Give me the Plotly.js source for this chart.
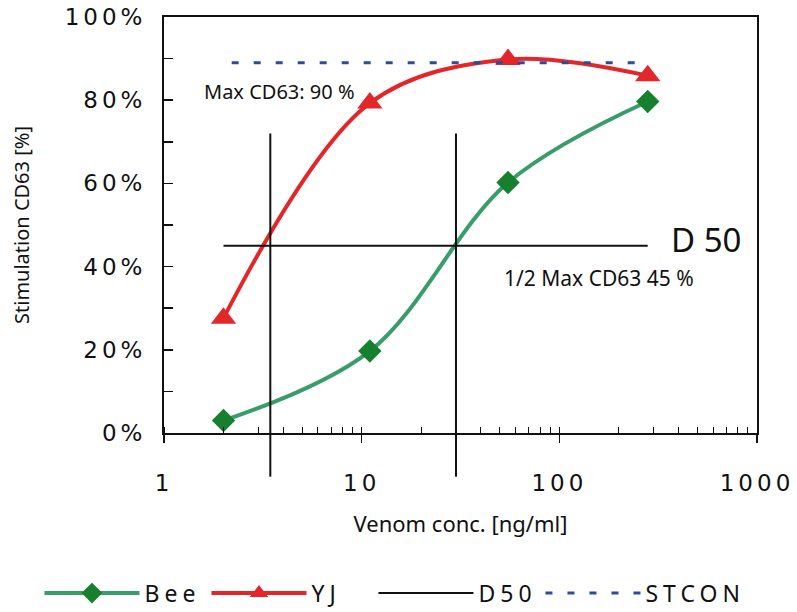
<!DOCTYPE html>
<html>
<head>
<meta charset="utf-8">
<script src="https://cdn.plot.ly/plotly-3.0.1.min.js"></script>
<style>
  html, body { margin: 0; padding: 0; background: #ffffff; }
  #chart { width: 797px; height: 612px; }
  .xtick text, .ytick text { letter-spacing: 4px; }
  .legendtext { letter-spacing: 5px; }
  .legend [clip-path] { clip-path: none !important; }
</style>
</head>
<body>
<div id="chart"></div>
<script>
// ---- data ----
const conc = [2, 11, 55, 280];            // venom concentration, ng/ml
const beeValues = [3, 19.7, 60.2, 79.7];  // Bee, stimulation CD63 %
const yjValues = [27.6, 79.3, 89.8, 85.9];// YJ, stimulation CD63 %
const stconX = [2.2, 280];
const stconY = [89, 89];                  // max CD63 level
const d50X = [2, 280, null, 3.45, 3.45, null, 30, 30];
const d50Y = [45, 45, null, 72, 0, null, 72, 0];
const d50Drop = [[3.45, 0, -10.5], [30, 0, -10.5]]; // part of the D50 verticals below the axis
const xTickVals = [1, 10, 100, 1000];
const xTickText = ['1', '10', '100', '1000'];
const yTickVals = [0, 20, 40, 60, 80, 100];
const yTickText = ['0%', '20%', '40%', '60%', '80%', '100%'];
const yRange = [0, 100];

const RED = '#e3262a', GREEN_LINE = '#3a9c6b', GREEN_MK = '#17802f', BLUE = '#2e4c9c';
const TXT = 'Noto Sans, DejaVu Sans, sans-serif';
const TICKF = 'DejaVu Sans, sans-serif';

const traces = [
  { x: conc, y: beeValues, name: 'Bee', type: 'scatter', mode: 'lines+markers',
    line: { color: GREEN_LINE, width: 4, shape: 'spline', smoothing: 1 },
    marker: { symbol: 'diamond', size: 18, color: GREEN_MK } },
  { x: conc, y: yjValues, name: 'YJ', type: 'scatter', mode: 'lines+markers',
    line: { color: RED, width: 4, shape: 'spline', smoothing: 1 },
    marker: { symbol: 'triangle-up', size: 22, color: RED } },
  { x: d50X, y: d50Y, name: 'D50', type: 'scatter', mode: 'lines',
    line: { color: '#111111', width: 2 }, connectgaps: false },
  { x: stconX, y: stconY, name: 'STCON', type: 'scatter', mode: 'lines',
    line: { color: BLUE, width: 3, dash: '7px,15px' } }
];

const toDomain = v => (v - yRange[0]) / (yRange[1] - yRange[0]);
const shapes = d50Drop.map(d => ({
  type: 'line', xref: 'x', yref: 'y domain', x0: d[0], x1: d[0],
  y0: toDomain(d[1]), y1: toDomain(d[2]), line: { color: '#111111', width: 2 }
}));

const layout = {
  width: 797, height: 612,
  margin: { l: 164, r: 40, t: 17, b: 179, autoexpand: false },
  paper_bgcolor: '#ffffff', plot_bgcolor: '#ffffff',
  showlegend: true,
  legend: { orientation: 'h', x: -0.21, xanchor: 'left', y: -0.385, yanchor: 'middle',
            font: { family: TXT, size: 23, color: '#111' }, itemwidth: 95, traceorder: 'normal',
            entrywidth: 57, entrywidthmode: 'pixels' },
  xaxis: {
    type: 'log', range: [0, 3], showgrid: false, zeroline: false, automargin: false,
    showline: true, linecolor: '#111', linewidth: 2, mirror: true,
    ticks: 'outside', ticklen: 8, tickwidth: 1.5, tickcolor: '#111',
    tickvals: xTickVals, ticktext: xTickText, ticklabelstandoff: 20,
    tickfont: { family: TICKF, size: 23, color: '#111' },
    minor: { ticks: 'inside', ticklen: 6, tickwidth: 1, tickcolor: '#111', dtick: 'D1', showgrid: false },
    title: { text: 'Venom conc. [ng/ml]', font: { family: TXT, size: 22, color: '#111' }, standoff: 22 }
  },
  xaxis2: {
    type: 'log', range: [0, 3], overlaying: 'x', anchor: 'y', side: 'bottom', automargin: false,
    showgrid: false, zeroline: false, showline: false,
    ticks: 'inside', ticklen: 8, tickwidth: 1.5, tickcolor: '#111',
    tickvals: xTickVals, showticklabels: false
  },
  yaxis: {
    range: yRange, showgrid: false, zeroline: false, automargin: false,
    showline: true, linecolor: '#111', linewidth: 2, mirror: true,
    ticks: 'inside', ticklen: 9, tickwidth: 1.5, tickcolor: '#111',
    tickvals: yTickVals, ticktext: yTickText, ticklabelstandoff: 11,
    tickfont: { family: TICKF, size: 23, color: '#111' },
    minor: { ticks: 'inside', ticklen: 9, tickwidth: 1.5, tickcolor: '#111', dtick: 10, showgrid: false },
    title: { text: 'Stimulation CD63 [%]', font: { family: TXT, size: 20, color: '#111' }, standoff: 30 }
  },
  shapes: shapes,
  annotations: [
    { text: 'Max CD63: 90 %', xref: 'x', yref: 'y', x: Math.log10(1.55), y: 82,
      xanchor: 'left', yanchor: 'middle', showarrow: false, font: { family: TXT, size: 20, color: '#111' } },
    { text: 'D 50', xref: 'x', yref: 'y', x: Math.log10(359), y: 46.6,
      xanchor: 'left', yanchor: 'middle', showarrow: false, font: { family: TXT, size: 33, color: '#111' } },
    { text: '1/2 Max CD63 45 %', xref: 'x', yref: 'y', x: Math.log10(51), y: 37.3,
      xanchor: 'left', yanchor: 'middle', showarrow: false, font: { family: TXT, size: 21, color: '#111' } }
  ]
};

Plotly.newPlot('chart', traces, layout, { displayModeBar: false, staticPlot: true });
</script>
</body>
</html>
